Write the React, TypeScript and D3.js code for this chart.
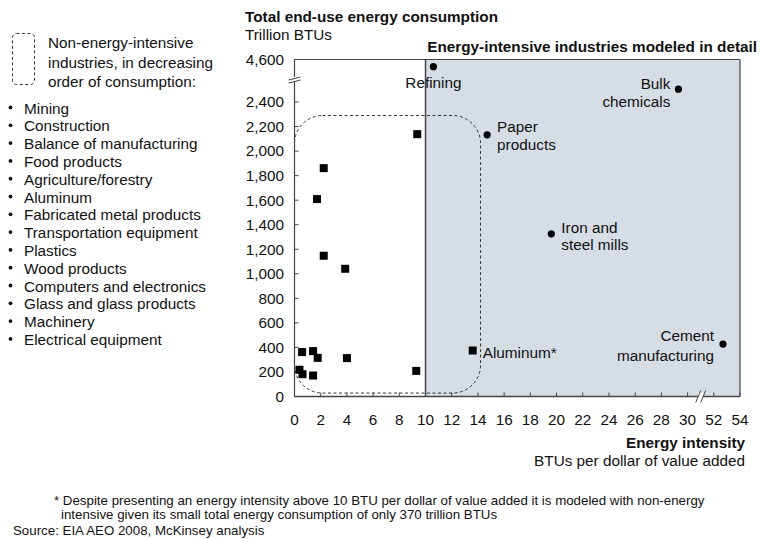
import React from "react";
import * as d3 from "d3";

// ---- Data ----
const nonIntensiveX = [9.37, 2.23, 1.72, 2.23, 3.87, 9.29, 4.0, 0.58, 1.42, 1.77, 0.38, 0.61, 1.42];
const nonIntensiveY = [2138, 1861, 1609, 1147, 1041, 209, 313, 362, 370, 315, 218, 182, 171];

const aluminumX = [13.6];
const aluminumY = [375];

const intensiveNames = [["Refining"], ["Bulk", "chemicals"], ["Paper", "products"], ["Iron and", "steel mills"], ["Cement", "manufacturing"]];
const intensiveX = [10.6, 29.3, 14.7, 19.6, 52.7];
const intensiveY = [4230, 3065, 2133, 1326, 427];

const xTickValues = [0, 2, 4, 6, 8, 10, 12, 14, 16, 18, 20, 22, 24, 26, 28, 30, 52, 54];
const yTickValues = [0, 200, 400, 600, 800, 1000, 1200, 1400, 1600, 1800, 2000, 2200, 2400, 4600];

const legendItems = [
  "Mining",
  "Construction",
  "Balance of manufacturing",
  "Food products",
  "Agriculture/forestry",
  "Aluminum",
  "Fabricated metal products",
  "Transportation equipment",
  "Plastics",
  "Wood products",
  "Computers and electronics",
  "Glass and glass products",
  "Machinery",
  "Electrical equipment",
];

const legendHeader = ["Non-energy-intensive", "industries, in decreasing", "order of consumption:"];

// ---- Layout ----
const W = 760;
const H = 539;
const left = 294.5;
const right = 740;
const top = 59.5;
const bottom = 396.5;
const unit = (right - left) / 34;

const x = d3.scaleLinear().domain([0, 30, 52, 54]).range([left, left + 30 * unit, left + 32 * unit, right]);
const y = d3.scaleLinear().domain([0, 2400, 4600]).range([bottom, bottom - 2400 * 0.1227, top]);

const FONT = "'Liberation Sans', Arial, Helvetica, sans-serif";
const AXIS = "#444";
const SHADE = "#d6dde5";
const FS = 15.3;

// label offsets [dx, anchor, dy per line]
const labelStyle = [
  { dx: 0, anchor: "middle", dys: [16] },
  { dx: -8, anchor: "end", dys: [-6, 12] },
  { dx: 10, anchor: "start", dys: [-8, 10] },
  { dx: 10, anchor: "start", dys: [-6, 11] },
  { dx: -9, anchor: "end", dys: [-8, 12] },
];

export default function App() {
  const boxX0 = x(0);
  const boxX1 = x(14.2);
  const boxY0 = y(2290);
  const boxY1 = y(28);
  const xBreak = x(30) + unit;
  const yBreak = y(2400) - 23;
  return (
    <div style={{ position: "absolute", left: 0, top: 0 }}>
      <svg width={W} height={H} style={{ display: "block", fontFamily: FONT }}>
        <rect x={0} y={0} width={W} height={H} fill="#fff" />
        {/* shaded region */}
        <rect x={x(10)} y={top} width={right - x(10)} height={bottom - top} fill={SHADE} />

        {/* group box */}
        <rect
          x={boxX0}
          y={boxY0}
          width={boxX1 - boxX0}
          height={boxY1 - boxY0}
          rx={28}
          ry={28}
          fill="none"
          stroke="#333"
          strokeWidth={1}
          strokeDasharray="3,2.5"
        />

        {/* intensive labels */}
        {intensiveNames.map((lines, i) => {
          const s = labelStyle[i];
          return (
            <text key={"l" + i} fontSize={FS} fill="#111" textAnchor={s.anchor as any}>
              {lines.map((ln, j) => (
                <tspan key={j} x={x(intensiveX[i]) + s.dx} y={y(intensiveY[i]) + s.dys[j]} dy="0.35em">
                  {ln}
                </tspan>
              ))}
            </text>
          );
        })}
        <text x={x(aluminumX[0]) + 10} y={y(aluminumY[0]) + 2} dy="0.35em" fontSize={FS} fill="#111">
          Aluminum*
        </text>

        {/* frame */}
        <line x1={left} x2={right} y1={top} y2={top} stroke={AXIS} strokeWidth={1.2} />
        <line x1={right} x2={right} y1={top} y2={bottom} stroke={AXIS} strokeWidth={1.2} />
        <line x1={x(10)} x2={x(10)} y1={top} y2={bottom} stroke={AXIS} strokeWidth={1.5} />
        <line x1={left} x2={left} y1={top} y2={bottom} stroke={AXIS} strokeWidth={1.2} />
        <line x1={left} x2={right} y1={bottom} y2={bottom} stroke={AXIS} strokeWidth={1.5} />

        {/* y ticks */}
        {yTickValues.map((v) => (
          <g key={"yt" + v}>
            <line x1={left} x2={left + 4} y1={y(v)} y2={y(v)} stroke={AXIS} strokeWidth={1} />
            <text x={284} y={y(v)} dy="0.35em" textAnchor="end" fontSize={FS} fill="#111">
              {d3.format(",")(v)}
            </text>
          </g>
        ))}
        {/* x ticks */}
        {xTickValues.map((v) => (
          <g key={"xt" + v}>
            <line x1={x(v)} x2={x(v)} y1={bottom} y2={bottom - 4} stroke={AXIS} strokeWidth={1} />
            <text x={x(v)} y={420} dy="0.35em" textAnchor="middle" fontSize={FS} fill="#111">
              {v}
            </text>
          </g>
        ))}

        {/* axis breaks */}
        <rect x={left - 6} y={yBreak - 2} width={12} height={4} fill="#fff" />
        <line x1={left - 6} x2={left + 6} y1={yBreak + 1} y2={yBreak - 2} stroke={AXIS} strokeWidth={1} />
        <line x1={left - 6} x2={left + 6} y1={yBreak + 4} y2={yBreak + 1} stroke={AXIS} strokeWidth={1} />
        <rect x={xBreak - 2.5} y={bottom - 4} width={5} height={8} fill="#fff" />
        <line x1={xBreak - 5} x2={xBreak} y1={bottom + 6} y2={bottom - 6} stroke={AXIS} strokeWidth={1} />
        <line x1={xBreak} x2={xBreak + 5} y1={bottom + 6} y2={bottom - 6} stroke={AXIS} strokeWidth={1} />

        {/* points */}
        {nonIntensiveX.map((v, i) => (
          <rect key={"s" + i} x={x(v) - 4} y={y(nonIntensiveY[i]) - 4} width={8} height={8} fill="#000" />
        ))}
        {aluminumX.map((v, i) => (
          <rect key={"a" + i} x={x(v) - 4} y={y(aluminumY[i]) - 4} width={8} height={8} fill="#000" />
        ))}
        {intensiveX.map((v, i) => (
          <circle key={"c" + i} cx={x(v)} cy={y(intensiveY[i])} r={3.6} fill="#000" />
        ))}

        {/* titles */}
        <text x={245} y={17} dy="0.35em" fontSize={FS} fontWeight="bold" fill="#111">
          Total end-use energy consumption
        </text>
        <text x={245} y={35} dy="0.35em" fontSize={FS} fill="#111">
          Trillion BTUs
        </text>
        <text x={757} y={47} dy="0.35em" fontSize={FS} fontWeight="bold" fill="#111" textAnchor="end">
          Energy-intensive industries modeled in detail
        </text>
        <text x={745} y={443} dy="0.35em" fontSize={FS} fontWeight="bold" fill="#111" textAnchor="end">
          Energy intensity
        </text>
        <text x={745} y={461} dy="0.35em" fontSize={FS} fill="#111" textAnchor="end">
          BTUs per dollar of value added
        </text>

        {/* legend */}
        <rect x={12.5} y={33.5} width={22} height={51} rx={4} ry={4} fill="none" stroke="#333" strokeDasharray="3,2.5" />
        {legendHeader.map((t, i) => (
          <text key={"lh" + i} x={48} y={43 + i * 19.5} dy="0.35em" fontSize={FS} fill="#111">
            {t}
          </text>
        ))}
        {legendItems.map((t, i) => (
          <g key={"li" + i}>
            <circle cx={10.5} cy={107.5 + i * 17.8} r={1.9} fill="#111" />
            <text x={24} y={108.3 + i * 17.8} dy="0.35em" fontSize={FS} fill="#111">
              {t}
            </text>
          </g>
        ))}

        {/* footnote */}
        <text x={54} y={500.5} dy="0.35em" fontSize={13.3} fill="#111">
          * Despite presenting an energy intensity above 10 BTU per dollar of value added it is modeled with non-energy
        </text>
        <text x={61} y={514.5} dy="0.35em" fontSize={13.3} fill="#111">
          intensive given its small total energy consumption of only 370 trillion BTUs
        </text>
        <text x={13} y={530.5} dy="0.35em" fontSize={13.3} fill="#111">
          Source: EIA AEO 2008, McKinsey analysis
        </text>
      </svg>
    </div>
  );
}
